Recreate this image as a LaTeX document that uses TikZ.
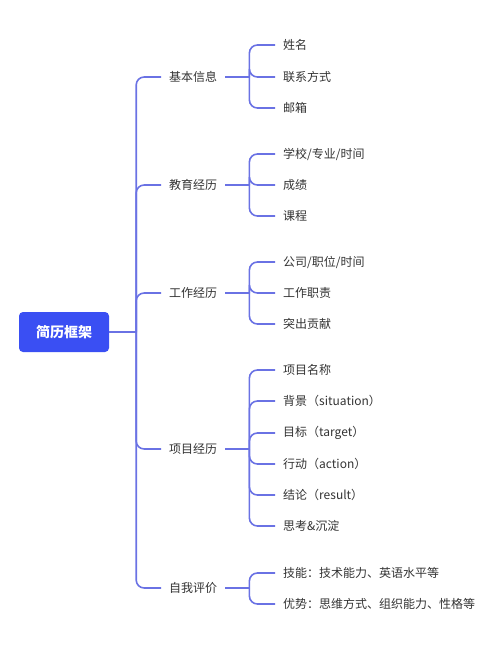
\documentclass[tikz,border=0pt]{standalone}
\usepackage{fontspec}
\setmainfont{Noto Sans CJK SC}
\usepackage{xcolor}
\usetikzlibrary{positioning}
\definecolor{rootblue}{HTML}{3A4FF3}
\definecolor{linkblue}{HTML}{6A72E4}
\definecolor{txtgray}{HTML}{333333}

\begin{document}
\begin{tikzpicture}[
  x=1pt, y=-1pt,
  rootbox/.style={rectangle, rounded corners=4pt, fill=rootblue,
                  minimum width=90pt, minimum height=40pt,
                  font=\fontsize{14}{16}\selectfont\bfseries, text=white},
  topic/.style={anchor=west, inner xsep=8pt, inner ysep=2pt,
                font=\fontsize{12}{14}\selectfont, text=txtgray},
  conn/.style={draw=linkblue, line width=1.6pt, rounded corners=8pt},
]
  \useasboundingbox (0,0) rectangle (500,653);
  \node[rootbox] (root) at (64,332) {简历框架};
  \coordinate (hub) at ([xshift=27pt]root.east);
  \draw[conn] (root.east) -- (hub);
  % first level, each with its own little spine
  \foreach \name/\ypos/\txt in {ji/77/基本信息, jy/185/教育经历, gz/293/工作经历,
                                 xm/449/项目经历, zw/588/自我评价}{
    \node[topic] (\name) at (161,\ypos) {\txt};
    \draw[conn] (hub) |- (\name.west);
    \coordinate (\name-j) at ([xshift=24pt]\name.east);
    \draw[conn] (\name.east) -- (\name-j);
  }
  % leaves
  \foreach \up/\ypos/\txt [count=\i] in {ji/45/姓名, ji/77/联系方式, ji/108/邮箱,
      jy/154/{学校/专业/时间}, jy/185/成绩, jy/216/课程,
      gz/262/{公司/职位/时间}, gz/293/工作职责, gz/324/突出贡献,
      xm/370/项目名称, xm/401/背景（situation）, xm/433/目标（target）,
      xm/464/行动（action）, xm/495/结论（result）, xm/526/思考\&沉淀,
      zw/573/技能：技术能力、英语水平等, zw/604/优势：思维方式、组织能力、性格等}{
    \node[topic] (leaf\i) at (275,\ypos) {\txt};
    \draw[conn] (\up-j) |- (leaf\i.west);
  }
\end{tikzpicture}
\end{document}
